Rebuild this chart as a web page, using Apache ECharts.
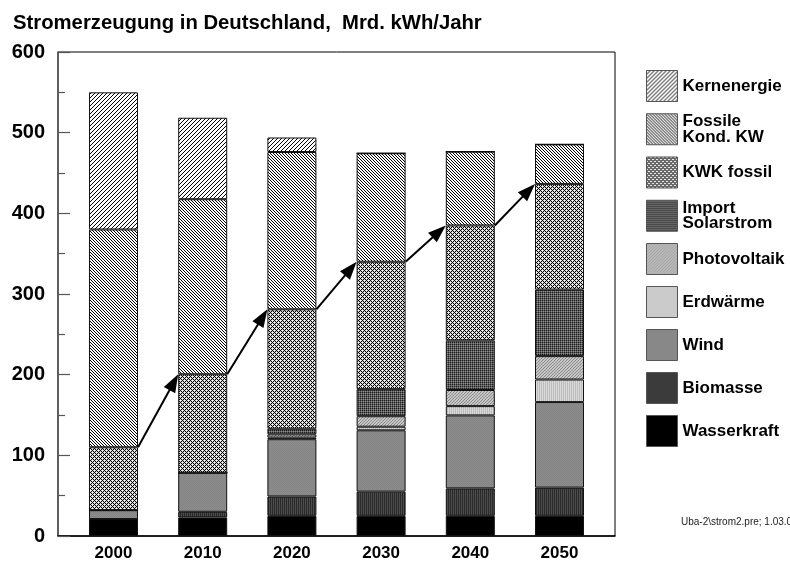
<!DOCTYPE html>
<html>
<head>
<meta charset="utf-8">
<script src="https://cdn.jsdelivr.net/npm/echarts@6/dist/echarts.min.js"></script>
<style>
html,body{margin:0;padding:0;background:#fff;}
#chart{width:790px;height:565px;}
</style>
</head>
<body>
<div id="chart"></div>
<script>
// ---- data (Mrd. kWh/Jahr) ----
const years = [2000, 2010, 2020, 2030, 2040, 2050];
const wasserkraft  = [21, 23, 25, 25, 25, 25];
const biomasse     = [0, 7, 24, 30, 34, 35];
const wind         = [11, 48.5, 71, 76, 90.5, 106];
const erdwaerme    = [0, 0, 2, 4.5, 11.5, 28];
const photovoltaik = [0, 0, 4, 13, 20, 29];
const importSolar  = [0, 0, 7, 33.5, 61.5, 82.5];
const kwkFossil    = [78, 122, 148, 158, 142.5, 131];
const fossilKond   = [270, 217, 195, 134.5, 91.5, 49];
const kernenergie  = [170, 101, 18, 0, 0, 0];
const yAxisMax = 600;
const yAxisStep = 100;

// ---- patterns ----
function pat(w, h, draw) {
  const c = document.createElement('canvas');
  c.width = w; c.height = h;
  const g = c.getContext('2d');
  draw(g);
  return { image: c, repeat: 'repeat' };
}
function px(g, x, y, col) { g.fillStyle = col; g.fillRect(x, y, 1, 1); }

const P = {
  kern: pat(4, 4, g => { g.fillStyle = '#fff'; g.fillRect(0,0,4,4); for (let x=0;x<4;x++) px(g, x, 3-x, '#000'); }),
  fossil: pat(3, 3, g => { g.fillStyle = '#fff'; g.fillRect(0,0,3,3); for (let x=0;x<3;x++) { px(g, x, x, '#000'); } }),
  kwk: pat(4, 4, g => {
    g.fillStyle = '#000'; g.fillRect(0,0,4,4);
    // white dots at (0,0) and (2,2) with soft arms
    [[0,0],[2,2]].forEach(c => {
      px(g, c[0], c[1], '#fff');
      [[1,0],[-1,0],[0,1],[0,-1]].forEach(d => px(g, (c[0]+d[0]+4)%4, (c[1]+d[1]+4)%4, '#d2d2d2'));
    });
  }),
  imp: pat(2, 2, g => { px(g,0,0,'#1e1e1e'); px(g,1,0,'#5a5a5a'); px(g,0,1,'#5a5a5a'); px(g,1,1,'#8e8e8e'); }),
  pv: pat(3, 3, g => { g.fillStyle = '#c6c6c6'; g.fillRect(0,0,3,3); for (let x=0;x<3;x++) px(g, x, 2-x, '#8a8a8a'); }),
  erd: pat(2, 1, g => { px(g,0,0,'#d9d9d9'); px(g,1,0,'#bdbdbd'); }),
  wind: pat(2, 2, g => { px(g,0,0,'#838383'); px(g,1,0,'#8c8c8c'); px(g,0,1,'#8c8c8c'); px(g,1,1,'#868686'); }),
  bio: pat(2, 1, g => { px(g,0,0,'#2a2a2a'); px(g,1,0,'#4c4c4c'); }),
  wasser: '#000'
};

const FONT = '"Liberation Sans", Arial, sans-serif';
const BAR_W = 49;

// data rows are [value, year]; dimension 0 (value) is mapped to y so stacking happens on y
function barSeries(name, values, fill) {
  return {
    name: name,
    type: 'bar',
    stack: 'total',
    barWidth: BAR_W,
    data: years.map((y, i) => [values[i], y]),
    encode: { x: 1, y: 0 },
    itemStyle: { color: fill, borderColor: '#111', borderWidth: 1 },
    emphasis: { disabled: true },
    animation: false
  };
}

// cumulative top of the KWK layer for the arrows
const stackBelowKwk = [wasserkraft, biomasse, wind, erdwaerme, photovoltaik, importSolar, kwkFossil];
const kwkTop = years.map((y, i) => stackBelowKwk.reduce((s, arr) => s + arr[i], 0));
const arrowData = [];
for (let i = 0; i < years.length - 1; i++) {
  arrowData.push([years[i], kwkTop[i], years[i + 1], kwkTop[i + 1]]);
}

const chart = echarts.init(document.getElementById('chart'), null, { renderer: 'canvas' });

chart.setOption({
  animation: false,
  backgroundColor: '#fff',
  title: {
    text: 'Stromerzeugung in Deutschland,  Mrd. kWh/Jahr',
    left: 8, top: 8,
    textStyle: { fontFamily: FONT, fontWeight: 'bold', fontSize: 20.3, color: '#000' }
  },
  grid: { left: 58, right: 175, top: 52, bottom: 29, show: true, borderColor: '#000', borderWidth: 1, backgroundColor: 'transparent' },
  legend: {
    orient: 'vertical',
    left: 641, top: 65,
    itemWidth: 31, itemHeight: 31, itemGap: 11,
    icon: 'rect',
    selectedMode: false,
    data: ['Kernenergie', 'Fossile\nKond. KW', 'KWK fossil', 'Import\nSolarstrom', 'Photovoltaik', 'Erdwärme', 'Wind', 'Biomasse', 'Wasserkraft'],
    itemStyle: { borderColor: '#555', borderWidth: 1 },
    textStyle: { fontFamily: FONT, fontWeight: 'bold', fontSize: 17, color: '#000', lineHeight: 15.5 }
  },
  xAxis: {
    type: 'value',
    min: 1993.78, max: 2056.22,
    splitLine: { show: false },
    axisTick: { show: false },
    axisLine: { show: true, lineStyle: { color: '#000', width: 1.5 } },
    axisLabel: {
      customValues: years,
      formatter: v => String(v),
      margin: 9,
      fontFamily: FONT, fontWeight: 'bold', fontSize: 17, color: '#000'
    }
  },
  yAxis: {
    type: 'value',
    min: 0, max: yAxisMax, interval: yAxisStep,
    splitLine: { show: false },
    axisLine: { show: true, lineStyle: { color: '#555', width: 1.5 } },
    axisTick: { show: true, inside: true, length: 12, lineStyle: { color: '#555', width: 1.2 } },
    minorTick: { show: true, splitNumber: 2, length: 7, lineStyle: { color: '#555', width: 1.2 } },
    axisLabel: { margin: 13, fontFamily: FONT, fontWeight: 'bold', fontSize: 20, color: '#000' }
  },
  series: [
    barSeries('Wasserkraft', wasserkraft, P.wasser),
    barSeries('Biomasse', biomasse, P.bio),
    barSeries('Wind', wind, P.wind),
    barSeries('Erdwärme', erdwaerme, P.erd),
    barSeries('Photovoltaik', photovoltaik, P.pv),
    barSeries('Import\nSolarstrom', importSolar, P.imp),
    barSeries('KWK fossil', kwkFossil, P.kwk),
    barSeries('Fossile\nKond. KW', fossilKond, P.fossil),
    barSeries('Kernenergie', kernenergie, P.kern),
    {
      type: 'custom',
      name: 'arrows',
      data: arrowData,
      z: 10,
      silent: true,
      renderItem: function (params, api) {
        const a = api.coord([api.value(0), api.value(1)]);
        const b = api.coord([api.value(2), api.value(3)]);
        const x1 = a[0] + BAR_W / 2, y1 = a[1];
        const x2 = b[0] - BAR_W / 2, y2 = b[1];
        const dx = x2 - x1, dy = y2 - y1;
        const len = Math.sqrt(dx * dx + dy * dy);
        const ux = dx / len, uy = dy / len;
        const hl = 18, hw = 6.5;
        const bx = x2 - ux * hl, by = y2 - uy * hl;
        return {
          type: 'group',
          children: [
            { type: 'line', shape: { x1: x1, y1: y1, x2: bx + ux * 3, y2: by + uy * 3 }, style: { stroke: '#000', lineWidth: 2 } },
            { type: 'polygon', shape: { points: [[x2, y2], [bx - uy * hw, by + ux * hw], [bx + uy * hw, by - ux * hw]] }, style: { fill: '#000' } }
          ]
        };
      }
    }
  ],
  graphic: [
    { type: 'text', left: 681, top: 517, style: { text: 'Uba-2\\strom2.pre; 1.03.02', fontFamily: FONT, fontSize: 10, fill: '#222' } }
  ]
});
</script>
</body>
</html>
